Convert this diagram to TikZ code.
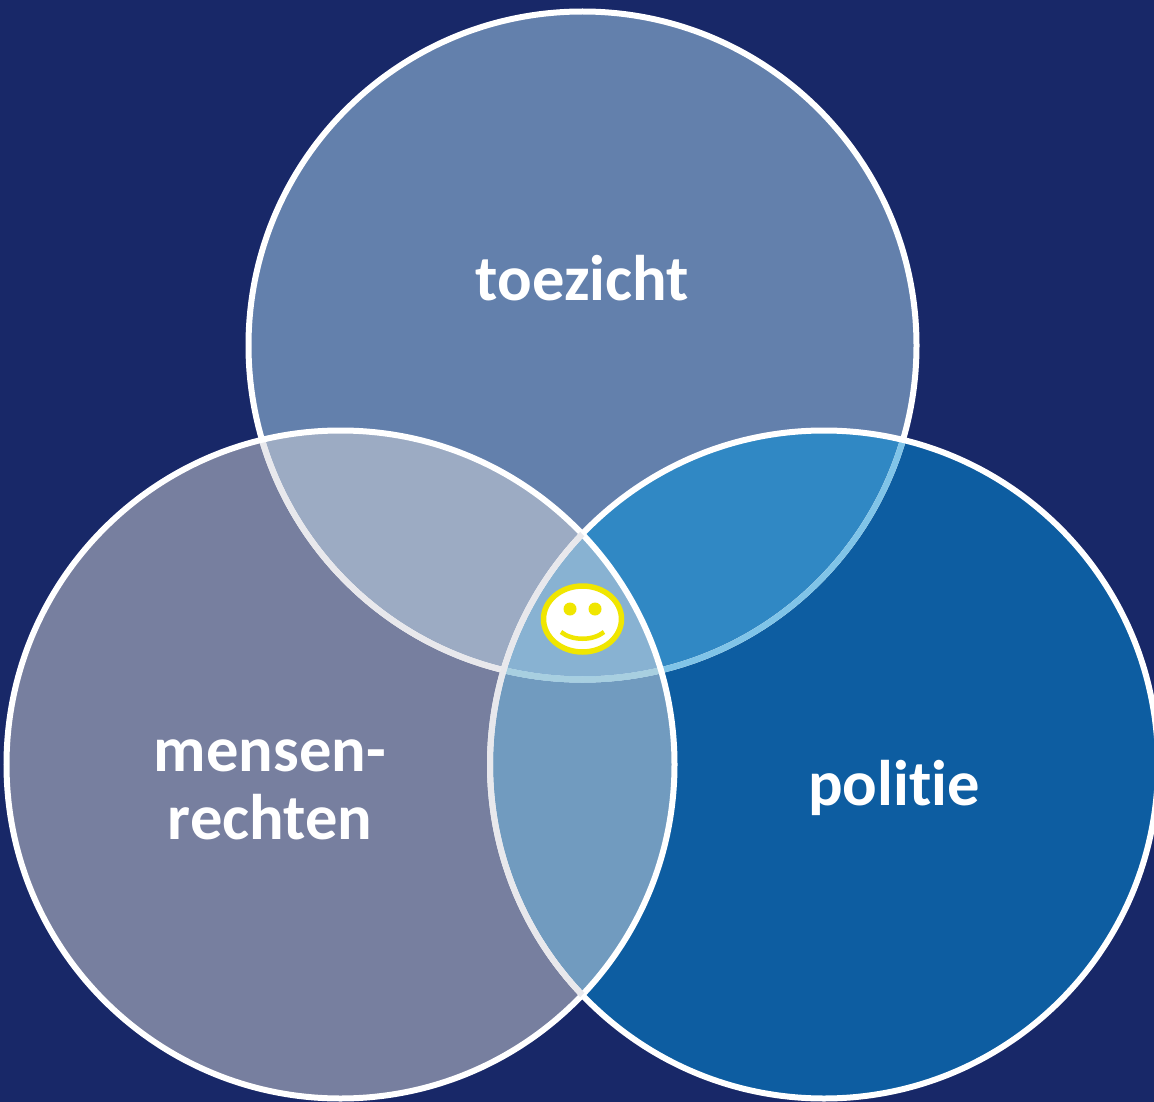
\documentclass[tikz,border=0pt]{standalone}
\usepackage{fontspec}
\setmainfont{Carlito}[Ligatures=NoCommon]
\definecolor{bg}{HTML}{182868}
\definecolor{ctop}{HTML}{6380AC}
\definecolor{cleft}{HTML}{777F9F}
\definecolor{cright}{HTML}{0D5DA1}
\definecolor{tl}{HTML}{9CABC3}
\definecolor{tr}{HTML}{3088C4}
\definecolor{lr}{HTML}{719BBF}
\definecolor{mid}{HTML}{88B2D2}
\definecolor{smile}{HTML}{F0E600}
\definecolor{arcgrey}{HTML}{E8E8EC}
\definecolor{arcsky}{HTML}{80C4E8}
\definecolor{arcpale}{HTML}{A8CFE0}
\tikzset{
  ring/.style={draw=white,line width=6},
  lbl/.style={text=white,font=\bfseries\fontsize{64.5}{68}\selectfont,align=center},
}
\begin{document}
\begin{tikzpicture}[x=1pt,y=-1pt]
\def\rr{334}
\useasboundingbox (0,0) rectangle (1154,1102);
\fill[bg] (0,0) rectangle (1154,1102);
\coordinate (T) at (582.5,345.5);
\coordinate (L) at (340.5,764.5);
\coordinate (R) at (824,764.5);
\fill[ctop] (T) circle (\rr);
\fill[cleft] (L) circle (\rr);
\fill[cright] (R) circle (\rr);
\begin{scope}\clip (T) circle (\rr); \fill[tl] (L) circle (\rr); \fill[tr] (R) circle (\rr);\end{scope}
\begin{scope}\clip (L) circle (\rr); \fill[lr] (R) circle (\rr);\end{scope}
\begin{scope}\clip (T) circle (\rr); \clip (L) circle (\rr); \fill[mid] (R) circle (\rr);\end{scope}
\draw[ring] (T) circle (\rr);
\begin{scope}\clip (L) circle (\rr); \draw[ring,draw=arcgrey] (T) circle (\rr);\end{scope}
\begin{scope}\clip (R) circle (\rr); \draw[ring,draw=arcsky] (T) circle (\rr);\end{scope}
\begin{scope}\clip (L) circle (\rr); \clip (R) circle (\rr); \draw[ring,draw=arcpale] (T) circle (\rr);\end{scope}
\draw[ring] (L) circle (\rr);
\draw[ring] (R) circle (\rr);
\begin{scope}\clip (L) circle (\rr); \draw[ring,draw=arcgrey] (R) circle (\rr);\end{scope}
\node[lbl] (a) at (582.5,278) {toezicht};
\node[lbl] (b) at (270,790) {mensen-\\rechten};
\node[lbl] (c) at (894,788) {politie};
\draw[smile,fill=white,line width=5.5] (582.5,619) ellipse (39 and 33);
\fill[smile] (570,609) circle (6.5);
\fill[smile] (595,609) circle (6.5);
\draw[smile,line width=4.5] (561,632) .. controls (572,641) and (593,641) .. (604,632);
\end{tikzpicture}
\end{document}
